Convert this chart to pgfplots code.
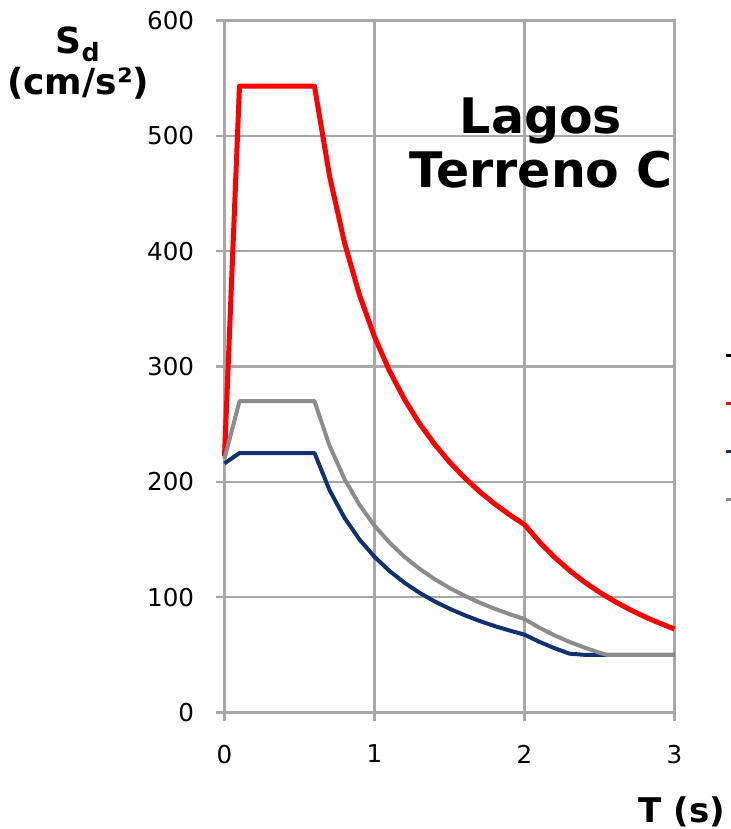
\documentclass[border=0pt]{standalone}
\usepackage{pgfplots}
\pgfplotsset{compat=1.18}
\usepackage{fontspec}
\setmainfont{DejaVu Sans}
\definecolor{gridgray}{RGB}{168,168,168}
\definecolor{curvegray}{RGB}{140,140,140}
\definecolor{navy}{RGB}{16,48,112}
\definecolor{sred}{RGB}{255,0,0}
\begin{document}
\begin{tikzpicture}
\begin{axis}[
  name=ax,
  at={(0,0)}, anchor=south west,
  scale only axis,
  width=225pt, height=346pt,
  xmin=0, xmax=3, ymin=0, ymax=600,
  xtick={0,1,2,3}, ytick={0,100,200,300,400,500,600},
  grid=major,
  grid style={gridgray, line width=1.2pt},
  axis line style={gridgray, line width=1.2pt},
  tick style={gridgray, line width=1.2pt},
  major tick length=4pt,
  tick align=outside,
  tick pos=left,
  /pgf/number format/assume math mode=true,
  tick label style={font=\fontsize{12.3pt}{14pt}\selectfont, text=black},
  yticklabel style={inner sep=0pt, anchor=east, xshift=-11pt},
  xticklabel style={inner sep=0pt, anchor=north, yshift=-12pt},
  clip=false,
  legend style={at={(1.11,0.551)}, anchor=north west, draw=none, fill=none,
    inner sep=0pt, row sep=0pt,
    nodes={inner sep=0pt, minimum height=24pt}},
  legend image code/.code={\draw[#1, line width=1.5pt] (0pt,0pt) -- (20pt,0pt);},
]
\addlegendimage{black, line width=1.5pt}
\addlegendentry{\phantom{x}}
\addplot[sred, line width=2.5pt, line join=round] coordinates {
(0,222) (0.1,543) (0.6,543) (0.7,465.4) (0.8,407.3) (0.9,362.0) (1.0,325.8)
(1.1,296.2) (1.2,271.5) (1.3,250.6) (1.4,232.7) (1.5,217.2) (1.6,203.6)
(1.7,191.6) (1.8,181.0) (1.9,171.5) (2.0,162.9) (2.1,147.8) (2.2,134.6)
(2.3,123.2) (2.4,113.1) (2.5,104.3) (2.6,96.4) (2.7,89.4) (2.8,83.1)
(2.9,77.5) (3.0,72.4)
};
\addlegendentry{\phantom{x}}
\addplot[navy, line width=2pt, line join=round] coordinates {
(0,216) (0.1,225) (0.6,225) (0.7,192.9) (0.8,168.8) (0.9,150.0) (1.0,135.0)
(1.1,122.7) (1.2,112.5) (1.3,103.8) (1.4,96.4) (1.5,90.0) (1.6,84.4)
(1.7,79.4) (1.8,75.0) (1.9,71.1) (2.0,67.5) (2.1,61.2) (2.2,55.8)
(2.3,51.0) (2.4,50) (2.5,50) (2.6,50) (2.7,50) (2.8,50) (2.9,50) (3.0,50)
};
\addlegendentry{\phantom{x}}
\addplot[curvegray, line width=2pt, line join=round] coordinates {
(0,220) (0.1,270) (0.6,270) (0.7,231.4) (0.8,202.5) (0.9,180.0) (1.0,162.0)
(1.1,147.3) (1.2,135.0) (1.3,124.6) (1.4,115.7) (1.5,108.0) (1.6,101.3)
(1.7,95.3) (1.8,90.0) (1.9,85.3) (2.0,81.0) (2.1,73.5) (2.2,66.9)
(2.3,61.2) (2.4,56.3) (2.5,51.8) (2.55,50) (2.6,50) (2.7,50) (2.8,50)
(2.9,50) (3.0,50)
};
\addlegendentry{\phantom{x}}
\node[font=\fontsize{24.5pt}{27pt}\selectfont\bfseries, anchor=base, inner sep=0pt] at (axis cs:2.11,502) {Lagos};
\node[font=\fontsize{24.5pt}{27pt}\selectfont\bfseries, anchor=base, inner sep=0pt] at (axis cs:2.11,455) {Terreno C};
\node[font=\fontsize{18pt}{20pt}\selectfont\bfseries, anchor=base, inner sep=0pt] at (axis cs:-0.975,571) {S\textsubscript{d}};
\node[font=\fontsize{18pt}{20pt}\selectfont\bfseries, anchor=base, inner sep=0pt] at (axis cs:-0.975,536) {(cm/s²)};
\node[font=\fontsize{17pt}{20pt}\selectfont\bfseries, anchor=base, inner sep=0pt] at (axis cs:3.05,-95.5) {T (s)};
\end{axis}
\pgfresetboundingbox
\path[use as bounding box] (-112.25pt,-58.25pt) rectangle (252.75pt,356.25pt);
\end{tikzpicture}
\end{document}
